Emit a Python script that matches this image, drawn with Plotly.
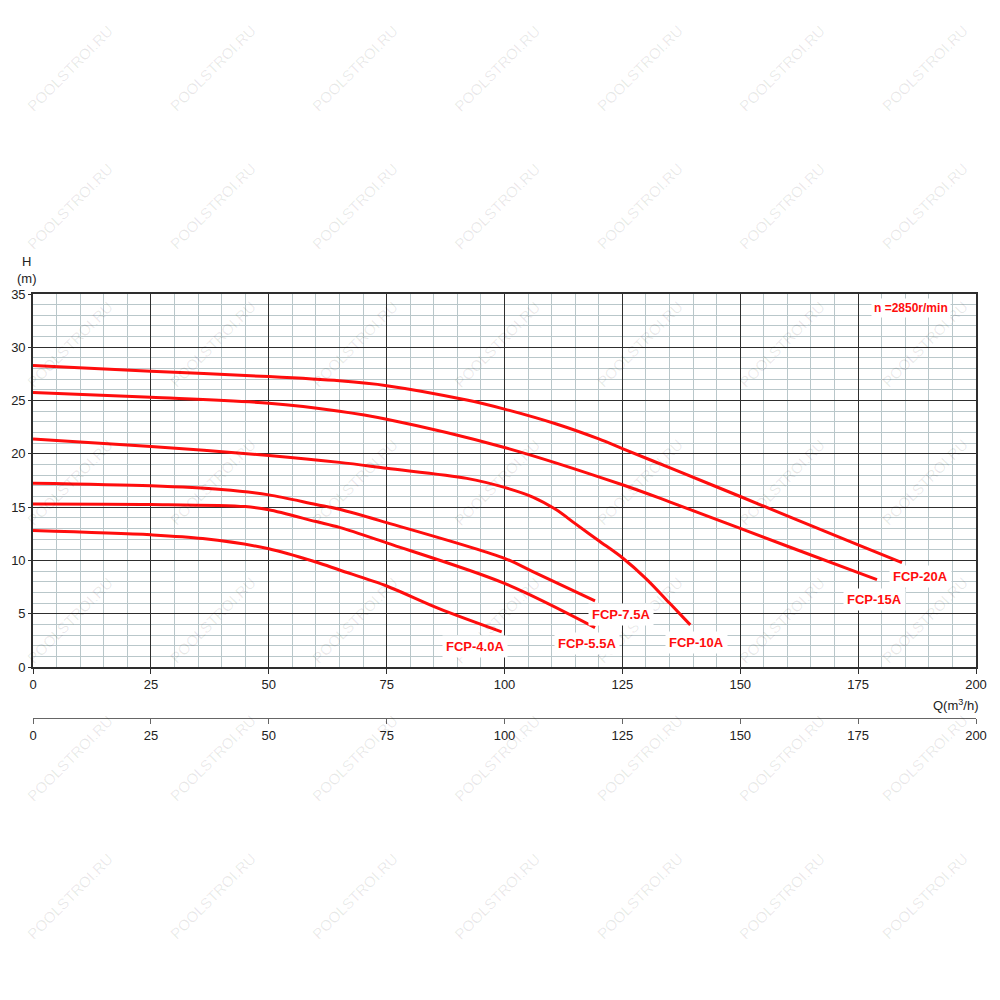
import plotly.graph_objects as go

# ---- data ----
Q_20A = [0, 25, 50, 65, 75, 92, 100, 111, 120, 125, 135, 150, 175, 184.3]
H_20A = [28.3, 27.75, 27.25, 26.85, 26.4, 25.05, 24.2, 22.8, 21.4, 20.5, 18.7, 16.0, 11.45, 9.8]

Q_15A = [0, 25, 50, 65, 75, 100, 125, 135, 150, 175, 179]
H_15A = [25.75, 25.3, 24.75, 24.0, 23.25, 20.6, 17.1, 15.5, 13.0, 8.85, 8.2]

Q_10A = [0, 25, 50, 65, 75, 92, 100, 106, 111, 115, 120, 125, 130, 135, 139.4]
H_10A = [21.4, 20.7, 19.85, 19.2, 18.65, 17.7, 16.85, 15.95, 14.75, 13.45, 11.85, 10.25, 8.3, 6.0, 3.95]

Q_75A = [0, 25, 40, 50, 60, 65, 75, 100, 106, 119.2]
H_75A = [17.25, 17.0, 16.65, 16.15, 15.25, 14.8, 13.55, 10.2, 8.95, 6.2]

Q_55A = [0, 25, 45, 50, 60, 65, 75, 100, 119.2]
H_55A = [15.3, 15.25, 15.05, 14.75, 13.65, 13.1, 11.65, 7.85, 3.7]

Q_40A = [0, 25, 36, 50, 60, 65, 75, 86, 99.4]
H_40A = [12.8, 12.4, 12.05, 11.1, 9.85, 9.1, 7.6, 5.5, 3.3]

SERIES_NAMES = ["FCP-20A", "FCP-15A", "FCP-10A", "FCP-7.5A", "FCP-5.5A", "FCP-4.0A"]
LABEL_Q = [188.2, 178.5, 140.8, 124.7, 117.5, 93.7]
LABEL_H = [8.47, 6.38, 2.3, 4.97, 2.16, 1.88]

X_TICKS = [0, 25, 50, 75, 100, 125, 150, 175, 200]
Y_TICKS = [0, 5, 10, 15, 20, 25, 30, 35]
SPEED_TEXT = "n =2850r/min"
WATERMARK = "POOLSTROI.RU"

# ---- layout geometry (page pixels; the page body adds an 8px offset) ----
OFF = 8
W, H = 1000 - OFF, 1000 - OFF
PLOT_L, PLOT_R, PLOT_T, AXIS2_Y = 33.3, 975.7, 294, 718
ML = PLOT_L - OFF
MR = W - (PLOT_R - OFF)
MT = PLOT_T - OFF
MB = H - (AXIS2_Y - OFF)
PW = W - ML - MR
PH = H - MT - MB
Y_DOMAIN_BOTTOM = (AXIS2_Y - 667) / PH

FONT = "Liberation Sans, Arial, sans-serif"
RED = "#ff0d0d"


def paper_xy(px, py):
    """page pixel -> paper coordinates"""
    fx, fy = px - OFF, py - OFF
    return (fx - ML) / PW, (H - MB - fy) / PH


fig = go.Figure()
curves = [(Q_20A, H_20A), (Q_15A, H_15A), (Q_10A, H_10A),
          (Q_75A, H_75A), (Q_55A, H_55A), (Q_40A, H_40A)]
for (q, h), name in zip(curves, SERIES_NAMES):
    fig.add_trace(go.Scatter(x=q, y=h, mode="lines", name=name,
                             line=dict(color=RED, width=3, shape="spline", smoothing=0.9),
                             showlegend=False, hoverinfo="skip"))

# invisible trace to register the secondary flow axis
fig.add_trace(go.Scatter(x=X_TICKS, y=[None] * len(X_TICKS), xaxis="x2", yaxis="y",
                         mode="markers", showlegend=False, hoverinfo="skip"))

annotations = []
# watermarks
for j in range(7):
    for k in range(7):
        px = 70 + 142.3 * k
        py = 68 + 138 * j
        xp, yp = paper_xy(px, py)
        annotations.append(dict(x=xp, y=yp, xref="paper", yref="paper", text=WATERMARK,
                                showarrow=False, textangle=-45, xanchor="center", yanchor="middle",
                                font=dict(family=FONT, size=15, color="rgba(0,0,0,0.09)")))

# curve labels
for name, lq, lh in zip(SERIES_NAMES, LABEL_Q, LABEL_H):
    annotations.append(dict(x=lq, y=lh, xref="x", yref="y", text="<b>%s</b>" % name,
                            showarrow=False, bgcolor="white", borderpad=3,
                            xanchor="center", yanchor="middle",
                            font=dict(family=FONT, size=13, color=RED)))

annotations.append(dict(x=186.3, y=33.7, xref="x", yref="y", text="<b>%s</b>" % SPEED_TEXT,
                        showarrow=False, bgcolor="white", borderpad=2,
                        xanchor="center", yanchor="middle",
                        font=dict(family=FONT, size=12, color=RED)))

# axis titles
qx, qy = paper_xy(981, 705)
annotations.append(dict(x=qx, y=qy, xref="paper", yref="paper",
                        text="Q(m<sup>3</sup>/h)", showarrow=False, xanchor="right", yanchor="middle",
                        font=dict(family=FONT, size=13, color="#222")))
hx, hy = paper_xy(27, 270)
annotations.append(dict(x=hx, y=hy, xref="paper", yref="paper",
                        text="H<br>(m)", showarrow=False, xanchor="center", yanchor="middle",
                        font=dict(family=FONT, size=13, color="#222")))

fig.update_layout(
    width=W, height=H,
    margin=dict(l=ML, r=MR, t=MT, b=MB, pad=0, autoexpand=False),
    paper_bgcolor="white", plot_bgcolor="white",
    font=dict(family=FONT, size=13, color="#222"),
    annotations=annotations,
    xaxis=dict(range=[0, 200], domain=[0, 1], tickvals=X_TICKS, ticktext=[str(v) for v in X_TICKS],
               showgrid=True, gridcolor="#2e2e2e", gridwidth=1.3,
               minor=dict(dtick=5, showgrid=True, gridcolor="#b9c7ca", gridwidth=1, ticks=""),
               showline=True, mirror=True, linecolor="#2e2e2e", linewidth=1.6,
               ticks="outside", ticklen=5, tickcolor="#2e2e2e", tickwidth=1.3, automargin=False,
               zeroline=False, tickfont=dict(size=13, color="#222"), fixedrange=True),
    xaxis2=dict(range=[0, 200], overlaying="x", anchor="free", position=0, side="bottom",
                tickvals=X_TICKS, ticktext=[str(v) for v in X_TICKS], automargin=False,
                showgrid=False, zeroline=False, showline=True, linecolor="#666", linewidth=1.2,
                ticks="outside", ticklen=5, tickcolor="#666", tickwidth=1.2,
                tickfont=dict(size=13, color="#222")),
    yaxis=dict(range=[0, 35], domain=[Y_DOMAIN_BOTTOM, 1], tickvals=Y_TICKS,
               ticktext=[str(v) for v in Y_TICKS], automargin=False,
               showgrid=True, gridcolor="#2e2e2e", gridwidth=1.3,
               minor=dict(dtick=1, showgrid=True, gridcolor="#b9c7ca", gridwidth=1, ticks=""),
               showline=True, mirror=True, linecolor="#2e2e2e", linewidth=1.6,
               ticks="outside", ticklen=3, tickcolor="#2e2e2e", tickwidth=1.3,
               zeroline=False, tickfont=dict(size=13, color="#222"), fixedrange=True),
)

fig.write_html("out.html")
